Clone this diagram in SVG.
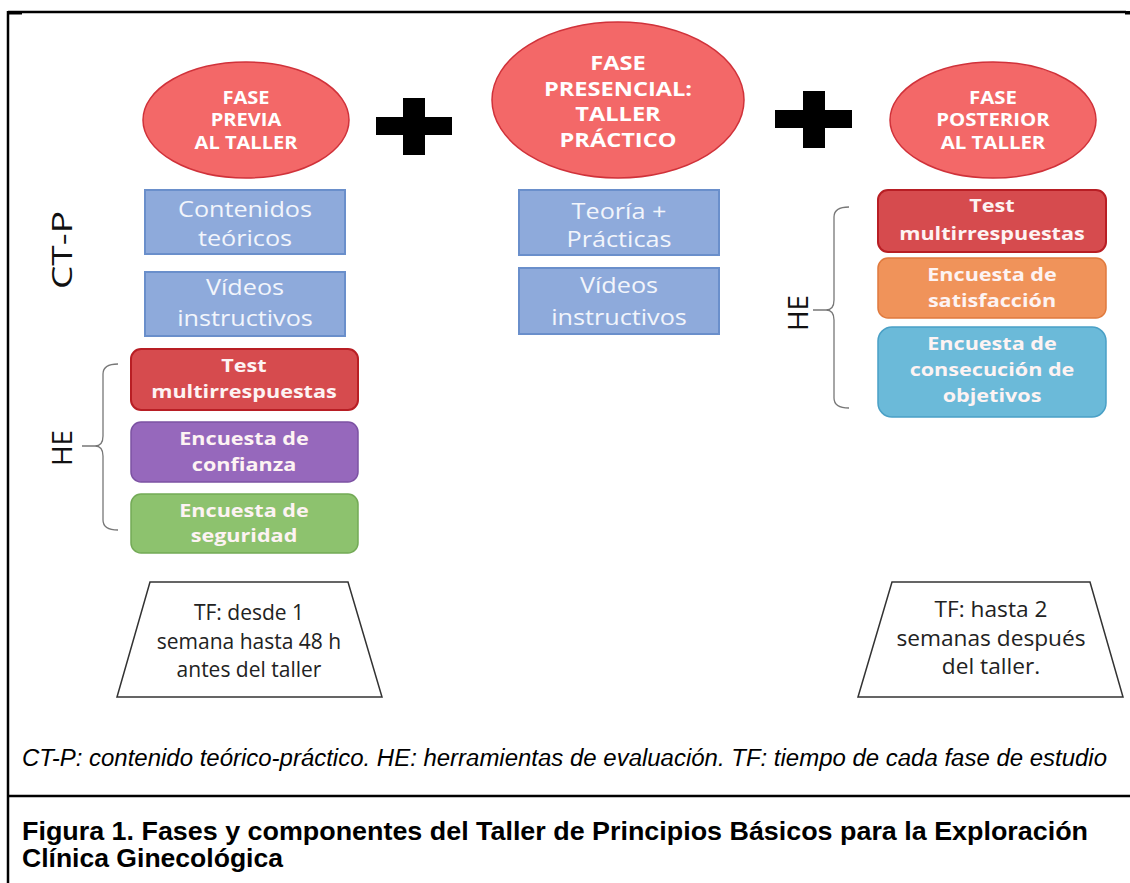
<svg xmlns="http://www.w3.org/2000/svg" width="1130" height="883" viewBox="0 0 1130 883">
<style>
.ell{fill:#f36868;stroke:#d0323a;stroke-width:1.5}
.et{font-family:"Open Sans",sans-serif;font-weight:bold;fill:#ffffff;text-anchor:middle}
.bl{fill:#8eaadb;stroke:#6a8fcb;stroke-width:2}
.bt{font-family:"Open Sans",sans-serif;font-size:21px;fill:#f2f5fb;text-anchor:middle}
.rt{font-family:"Open Sans",sans-serif;font-weight:bold;font-size:18px;fill:#fdf3f3;text-anchor:middle}
.tz{fill:#ffffff;stroke:#333333;stroke-width:1.5}
.tt{font-family:"Open Sans",sans-serif;font-size:21px;fill:#222222;text-anchor:middle}
.lab{font-family:"Open Sans",sans-serif;font-size:28px;fill:#111111;text-anchor:middle}
.br{fill:none;stroke:#777777;stroke-width:1.3}
.frame{stroke:#000;stroke-width:2.5;fill:none}
.cap{font-family:"Liberation Sans",Arial,sans-serif;fill:#000}
</style>
<rect width="1130" height="883" fill="#ffffff"/>
<g id="frame">
<line class="frame" x1="8" y1="12" x2="1126" y2="12"/>
<line class="frame" x1="8" y1="11" x2="8" y2="883"/>
<line class="frame" x1="8" y1="796" x2="1130" y2="796"/>
<rect x="8" y="11" width="14" height="3.5" fill="#000"/>
<rect x="1125" y="11" width="5" height="3.5" fill="#000"/>
</g>
<g id="fase-previa">
<ellipse class="ell" cx="246" cy="120" rx="103" ry="58"/>
<g transform="translate(246,0) scale(1.18,1)"><text class="et" font-size="17"><tspan x="0" y="104">FASE</tspan><tspan x="0" y="126">PREVIA</tspan><tspan x="0" y="149">AL TALLER</tspan></text></g>
</g>
<g id="plus1"><rect x="376" y="117" width="76" height="18"/><rect x="403" y="98" width="22" height="57"/></g>
<g id="fase-presencial">
<ellipse class="ell" cx="618" cy="100" rx="126" ry="78"/>
<g transform="translate(618,0) scale(1.18,1)"><text class="et" font-size="20"><tspan x="0" y="70">FASE</tspan><tspan x="0" y="96">PRESENCIAL:</tspan><tspan x="0" y="121">TALLER</tspan><tspan x="0" y="147">PRÁCTICO</tspan></text></g>
</g>
<g id="plus2"><rect x="775" y="110" width="77" height="18"/><rect x="803" y="91" width="22" height="57"/></g>
<g id="fase-posterior">
<ellipse class="ell" cx="993" cy="120" rx="103" ry="58"/>
<g transform="translate(993,0) scale(1.2,1)"><text class="et" font-size="17"><tspan x="0" y="104">FASE</tspan><tspan x="0" y="126">POSTERIOR</tspan><tspan x="0" y="149">AL TALLER</tspan></text></g>
</g>
<g id="contenidos">
<rect class="bl" x="145" y="190" width="200" height="64"/>
<g transform="translate(245,0) scale(1.2,1)"><text class="bt"><tspan x="0" y="217">Contenidos</tspan><tspan x="0" y="246">teóricos</tspan></text></g>
</g>
<g id="videos1">
<rect class="bl" x="145" y="272" width="200" height="64"/>
<g transform="translate(245,0) scale(1.2,1)"><text class="bt"><tspan x="0" y="295">Vídeos</tspan><tspan x="0" y="326">instructivos</tspan></text></g>
</g>
<g id="teoria">
<rect class="bl" x="519" y="190" width="200" height="65"/>
<g transform="translate(619,0) scale(1.2,1)"><text class="bt"><tspan x="0" y="219">Teoría +</tspan><tspan x="0" y="247">Prácticas</tspan></text></g>
</g>
<g id="videos2">
<rect class="bl" x="519" y="268" width="200" height="66"/>
<g transform="translate(619,0) scale(1.2,1)"><text class="bt"><tspan x="0" y="293">Vídeos</tspan><tspan x="0" y="325">instructivos</tspan></text></g>
</g>
<g id="test1">
<rect x="131" y="349" width="227" height="61" rx="10" fill="#d64b4e" stroke="#b81e24" stroke-width="2"/>
<g transform="translate(244,0) scale(1.2,1)"><text class="rt"><tspan x="0" y="372">Test</tspan><tspan x="0" y="398">multirrespuestas</tspan></text></g>
</g>
<g id="confianza">
<rect x="131" y="422" width="227" height="60" rx="10" fill="#9668bc" stroke="#7c52a3" stroke-width="1.5"/>
<g transform="translate(244,0) scale(1.2,1)"><text class="rt"><tspan x="0" y="445">Encuesta de</tspan><tspan x="0" y="471">confianza</tspan></text></g>
</g>
<g id="seguridad">
<rect x="131" y="494" width="227" height="59" rx="10" fill="#8dc26e" stroke="#73aa56" stroke-width="1.5"/>
<g transform="translate(244,0) scale(1.2,1)"><text class="rt"><tspan x="0" y="517">Encuesta de</tspan><tspan x="0" y="542">seguridad</tspan></text></g>
</g>
<g id="test2">
<rect x="878" y="190" width="228" height="62" rx="10" fill="#d64b4e" stroke="#b81e24" stroke-width="2"/>
<g transform="translate(992,0) scale(1.2,1)"><text class="rt"><tspan x="0" y="212">Test</tspan><tspan x="0" y="240">multirrespuestas</tspan></text></g>
</g>
<g id="satisfaccion">
<rect x="878" y="258" width="228" height="60" rx="10" fill="#f0935a" stroke="#e07a3e" stroke-width="1.5"/>
<g transform="translate(992,0) scale(1.2,1)"><text class="rt"><tspan x="0" y="281">Encuesta de</tspan><tspan x="0" y="307">satisfacción</tspan></text></g>
</g>
<g id="consecucion">
<rect x="878" y="327" width="228" height="90" rx="14" fill="#6bbad9" stroke="#4aa0c6" stroke-width="1.5"/>
<g transform="translate(992,0) scale(1.2,1)"><text class="rt"><tspan x="0" y="350">Encuesta de</tspan><tspan x="0" y="376">consecución de</tspan><tspan x="0" y="402">objetivos</tspan></text></g>
</g>
<g id="labels">
<text class="lab" transform="translate(72,250) rotate(-90)" textLength="78" lengthAdjust="spacingAndGlyphs">CT-P</text>
<text class="lab" transform="translate(72,448) rotate(-90)">HE</text>
<text class="lab" transform="translate(808,313) rotate(-90)">HE</text>
</g>
<g id="connectors">
<path class="br" d="M118,364 Q103,364 103,374 L103,436 Q103,446 95,446 L82,446 M95,446 Q103,446 103,456 L103,520 Q103,530 118,530"/>
<path class="br" d="M849,207 Q834,207 834,217 L834,300 Q834,310 826,310 L813,310 M826,310 Q834,310 834,320 L834,398 Q834,408 849,408"/>
</g>
<g id="tf1">
<polygon class="tz" points="150,582 348,582 382,697 117,697"/>
<text class="tt"><tspan x="249" y="620">TF: desde 1</tspan><tspan x="249" y="649">semana hasta 48 h</tspan><tspan x="249" y="677">antes del taller</tspan></text>
</g>
<g id="tf2">
<polygon class="tz" points="892,582 1090,582 1123,697 858,697"/>
<g transform="translate(991,0) scale(1.08,1)"><text class="tt"><tspan x="0" y="617">TF: hasta 2</tspan><tspan x="0" y="646">semanas después</tspan><tspan x="0" y="674">del taller.</tspan></text></g>
</g>
<g id="caption">
<text class="cap" x="22" y="766" font-style="italic" font-size="23" textLength="1085" lengthAdjust="spacingAndGlyphs">CT-P: contenido teórico-práctico. HE: herramientas de evaluación. TF: tiempo de cada fase de estudio</text>
<text class="cap" x="22" y="840" font-weight="bold" font-size="25" textLength="1066" lengthAdjust="spacingAndGlyphs">Figura 1.  Fases y componentes del Taller de Principios Básicos para la Exploración</text>
<text class="cap" x="22" y="867" font-weight="bold" font-size="25" textLength="261" lengthAdjust="spacingAndGlyphs">Clínica Ginecológica</text>
</g>
</svg>
